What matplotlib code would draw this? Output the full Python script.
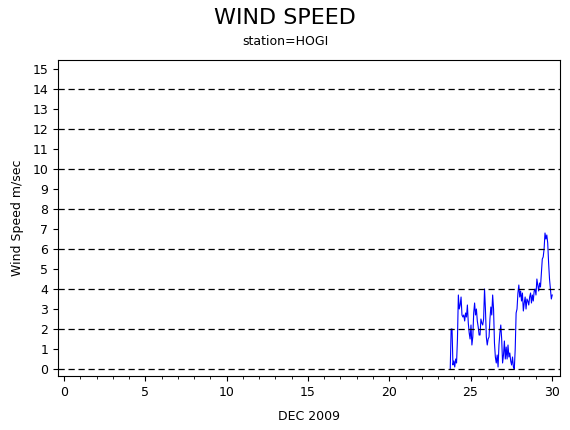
import numpy as np
import matplotlib.pyplot as plt
plt.switch_backend('agg')

start_day = 23.75
step_day = 0.0555
speed = [0.0, 2.0, 2.0, 0.2, 0.4, 0.1, 0.5, 0.3, 1.5, 3.7, 3.0, 3.2, 3.6, 2.7, 2.6,
         2.7, 2.4, 2.8, 2.6, 3.2, 2.3, 1.8, 1.5, 2.2, 1.2, 1.6, 2.8, 3.3, 2.7, 3.0,
         2.4, 2.1, 1.7, 1.7, 2.5, 2.3, 2.2, 2.5, 4.0, 3.0, 1.6, 1.2, 1.5, 1.6, 2.5,
         3.1, 2.7, 3.7, 3.0, 1.3, 0.6, 0.3, 0.7, 0.1, 1.2, 1.8, 2.2, 1.5, 0.3, 0.7,
         1.4, 0.5, 1.1, 0.5, 1.2, 0.6, 0.8, 0.4, 0.2, 0.6, 0.1, 0.0, 1.0, 2.8, 3.0,
         3.8, 4.2, 3.6, 3.9, 3.4, 3.8, 2.9, 3.3, 3.6, 3.0, 3.5, 3.4, 3.2, 3.6, 3.8,
         3.3, 3.7, 3.4, 3.9, 4.0, 3.7, 4.5, 4.2, 3.9, 4.3, 4.1, 4.8, 5.5, 5.6, 6.0,
         6.8, 6.5, 6.7, 6.3, 5.3, 4.5, 4.0, 3.5, 3.7]
days = [start_day + step_day * i for i in range(len(speed))]

fig = plt.figure(figsize=(5.7, 4.3), dpi=100)
ax = fig.add_axes([58 / 570, 1 - 376 / 430, 502 / 570, 316 / 430])
ax.plot(days, speed, color='blue', lw=0.8)
for y in range(0, 16, 2):
    ax.axhline(y, color='black', ls=(0, (5, 3)), lw=0.9)
ax.set_xlim(-0.37, 30.5)
ax.set_ylim(-0.35, 15.45)
ax.set_xticks(range(0, 31, 5))
ax.set_xticks(range(0, 31), minor=True)
ax.set_yticks(range(0, 16))
ax.tick_params(labelsize=9, direction='out')
ax.set_xlabel('DEC 2009', fontsize=9, labelpad=8)
ax.set_ylabel('Wind Speed m/sec', fontsize=9, labelpad=6)
fig.text(0.5, 0.945, 'WIND SPEED', ha='center', fontsize=16)
fig.text(0.5, 0.895, 'station=HOGI', ha='center', fontsize=9)
fig.savefig('out.png')
